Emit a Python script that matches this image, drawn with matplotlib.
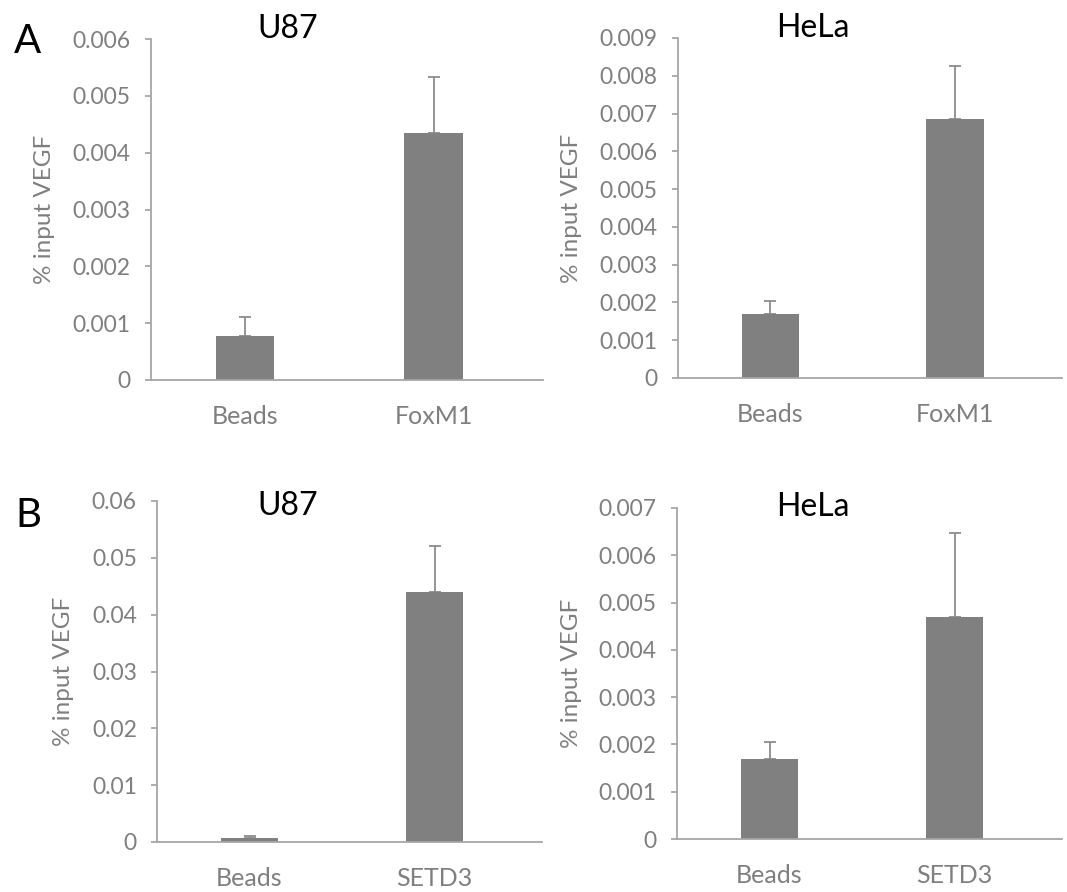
import numpy as np
import matplotlib
matplotlib.use("Agg")
import matplotlib.pyplot as plt
from matplotlib.ticker import FuncFormatter

plt.rcParams['font.family'] = ['Lato', 'DejaVu Sans']

# ---- data ----
cats_a = ["Beads", "FoxM1"]
cats_b = ["Beads", "SETD3"]

a_u87_vals = [0.00077, 0.00435]
a_u87_err = [0.00034, 0.00098]
a_hela_vals = [0.00169, 0.00686]
a_hela_err = [0.00035, 0.0014]
b_u87_vals = [0.0007, 0.044]
b_u87_err = [0.0004, 0.008]
b_hela_vals = [0.0017, 0.0047]
b_hela_err = [0.00035, 0.00177]

W, H = 1067, 892
fig = plt.figure(figsize=(W / 100, H / 100), dpi=100)

bar_col = "#808080"
axis_col = "#a6a6a6"
text_col = "#7f7f7f"


def px_axes(l, r, t, b):
    return fig.add_axes([l / W, 1 - b / H, (r - l) / W, (b - t) / H])


def panel(rect, cats, vals, errs, ymax, step, title, title_xy, ylab_px):
    ax = px_axes(*rect)
    x = np.arange(len(cats))
    ax.bar(x, vals, width=0.31, color=bar_col, zorder=2)
    ax.errorbar(x, vals, yerr=[np.zeros(len(vals)), errs], fmt="none",
                ecolor="#8c8c8c", elinewidth=1.3, capsize=4, capthick=1.3, zorder=1)
    ax.set_xlim(-0.5, 1.58)
    ax.set_ylim(0, ymax)
    ax.set_yticks(np.arange(0, ymax + step / 2, step))
    ax.yaxis.set_major_formatter(FuncFormatter(lambda v, p: f"{v:g}"))
    ax.set_xticks(x)
    ax.set_xticklabels(cats)
    for s in ["top", "right"]:
        ax.spines[s].set_visible(False)
    for s in ["left", "bottom"]:
        ax.spines[s].set_color(axis_col)
        ax.spines[s].set_linewidth(1.3)
    ax.tick_params(axis="y", length=4.5, width=1.3, color=axis_col,
                   labelcolor=text_col, labelsize=16.5, pad=10)
    ax.tick_params(axis="x", length=0, labelcolor=text_col, labelsize=18, pad=18)
    ax.set_ylabel("% input VEGF", color=text_col, fontsize=17.5, va="center")
    ax.yaxis.set_label_coords((ylab_px - rect[0]) / (rect[1] - rect[0]), 0.5)
    fig.text(title_xy[0] / W, 1 - title_xy[1] / H, title, fontsize=23,
             ha="center", va="baseline", color="black")
    return ax


panel((151, 543, 39, 380), cats_a, a_u87_vals, a_u87_err, 0.006, 0.001,
      "U87", (288, 38), 45)
panel((678, 1062, 38, 378), cats_a, a_hela_vals, a_hela_err, 0.009, 0.001,
      "HeLa", (813, 37), 572)
panel((157, 542, 501, 842), cats_b, b_u87_vals, b_u87_err, 0.06, 0.01,
      "U87", (288, 515), 63)
panel((677, 1062, 508, 839), cats_b, b_hela_vals, b_hela_err, 0.007, 0.001,
      "HeLa", (813, 516), 572)

fig.text(28 / W, 1 - 53 / H, "A", fontsize=29, ha="center", va="baseline")
fig.text(28 / W, 1 - 527 / H, "B", fontsize=29, ha="center", va="baseline")

fig.savefig("out.png", dpi=100)
